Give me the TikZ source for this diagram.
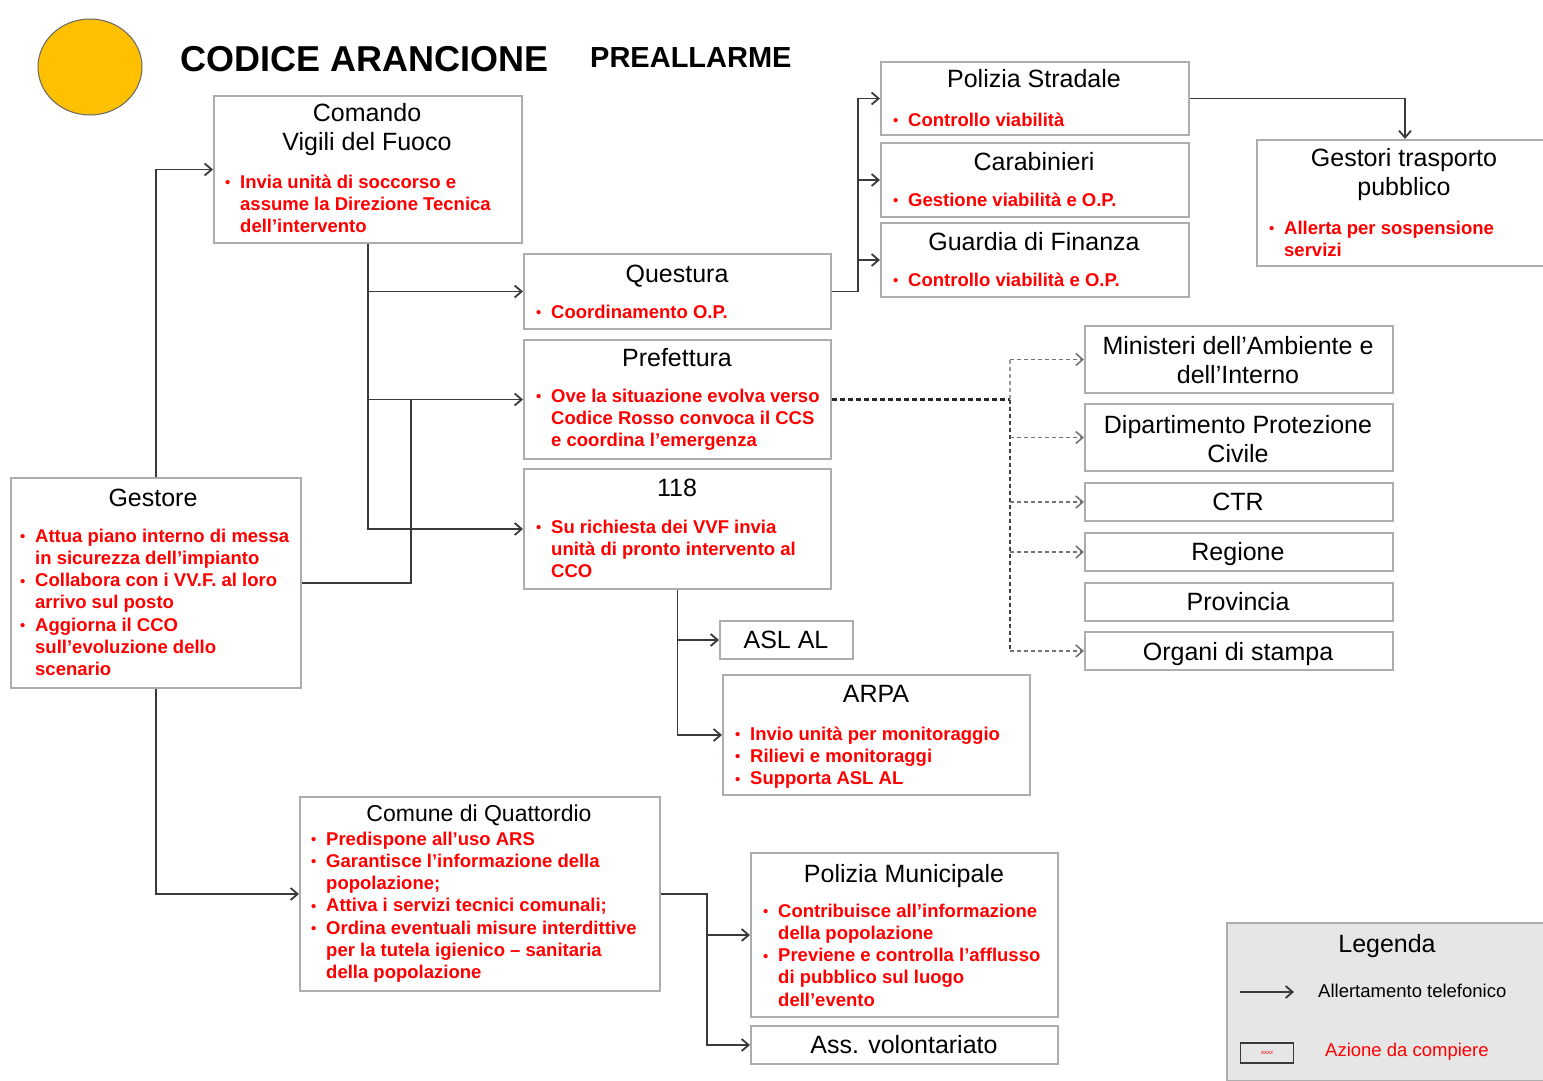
\documentclass[tikz,border=0pt]{standalone}
\usepackage{fontspec}
\setmainfont{Liberation Sans}
\usetikzlibrary{arrows.meta, positioning}
\definecolor{Arancio}{HTML}{FFC000}
\definecolor{Rosso}{HTML}{FF0000}
\definecolor{Bordo}{HTML}{ADADAD}
\definecolor{Linea}{HTML}{3A3A3A}
\definecolor{Fondo}{HTML}{E6E6E6}
\newcommand{\bl}{\makebox[15pt][l]{\raisebox{0.5pt}{\scalebox{0.8}{\textbullet}}}}
\newcommand{\ente}[5]{\node[box, anchor=north west, minimum width={#4-#2}, minimum height={#5-#3}] (#1) at (#2,#3) {};}
\tikzset{
  box/.style={draw=Bordo, line width=2pt, fill=white, inner sep=0pt},
  ttl/.style={font=\fontsize{25}{29}\selectfont, align=center, inner sep=0pt},
  act/.style={font=\fontsize{18.5}{22.3}\selectfont\bfseries, text=Rosso, anchor=base west, inner sep=0pt},
  con/.style={draw=Linea, line width=1.8pt},
  arr/.style={con, -{Straight Barb[length=7pt,width=12pt]}},
  dsh/.style={draw=black!55, line width=1.6pt, dash pattern=on 4pt off 3pt},
  darr/.style={dsh, -{Straight Barb[length=7pt,width=12pt]}}
}
\begin{document}
\begin{tikzpicture}[x=1pt, y=-1pt]
\useasboundingbox (0,0) rectangle (1543,1081);
% --- intestazione ---
\draw[fill=Arancio, draw=black!60, line width=1pt] (90,67) ellipse [x radius=52, y radius=48];
\node[anchor=base west, inner sep=0pt, font=\fontsize{36}{40}\selectfont\bfseries] (cod) at (180,71) {CODICE ARANCIONE};
\node[anchor=base west, inner sep=0pt, font=\fontsize{29}{33}\selectfont\bfseries] (fase) at (590,67) {PREALLARME};

% --- riquadri ---
\ente{vvf}{213}{95}{521}{242}
\ente{que}{523}{253}{830}{328}
\ente{pre}{523}{339}{830}{458}
\ente{sos}{523}{468}{830}{588}
\ente{pst}{880}{61}{1188}{134}
\ente{car}{880}{142}{1188}{216}
\ente{gdf}{880}{222}{1188}{296}
\ente{gtp}{1256}{139}{1552}{265}
\ente{min}{1084}{325}{1392}{392}
\ente{dip}{1084}{403}{1392}{470}
\ente{ctr}{1084}{482}{1392}{520}
\ente{reg}{1084}{532}{1392}{570}
\ente{prov}{1084}{582}{1392}{620}
\ente{org}{1084}{631}{1392}{669}
\ente{ges}{10}{477}{300}{687}
\ente{asl}{719}{620}{852}{658}
\ente{arpa}{722}{674}{1029}{794}
\ente{com}{299}{796}{659}{990}
\ente{pm}{750}{852}{1057}{1016}
\ente{ass}{750}{1025}{1057}{1063}

% --- titoli ---
\node[ttl] (vvfT) at (367,130) {Comando\\Vigili del Fuoco};
\node[ttl, anchor=base] (queT) at (677,282) {Questura};
\node[ttl, anchor=base] (preT) at (677,366) {Prefettura};
\node[ttl, anchor=base] (sosT) at (677,496) {118};
\node[ttl, anchor=base] (pstT) at (1034,88) {Polizia Stradale};
\node[ttl, anchor=base] (carT) at (1034,170) {Carabinieri};
\node[ttl, anchor=base] (gdfT) at (1034,250) {Guardia di Finanza};
\node[ttl] (gtpT) at (1404,175) {Gestori trasporto\\pubblico};
\node[ttl] (minT) at (1238,360) {Ministeri dell’Ambiente e\\dell’Interno};
\node[ttl] (dipT) at (1238,439) {Dipartimento Protezione\\Civile};
\node[ttl, anchor=base] (ctrT) at (1238,510) {CTR};
\node[ttl, anchor=base] (regT) at (1238,560) {Regione};
\node[ttl, anchor=base] (provT) at (1238,610) {Provincia};
\node[ttl, anchor=base] (orgT) at (1238,660) {Organi di stampa};
\node[ttl, anchor=base] (gesT) at (153,506) {Gestore};
\node[ttl, anchor=base] (aslT) at (786,648) {ASL AL};
\node[ttl, anchor=base] (arpaT) at (876,702) {ARPA};
\node[ttl, anchor=base, font=\fontsize{23}{27}\selectfont] (comT) at (479,821) {Comune di Quattordio};
\node[ttl, anchor=base] (pmT) at (904,882) {Polizia Municipale};
\node[ttl, anchor=base] (assT) at (904,1053) {Ass. volontariato};

% --- azioni ---
\node[act] (vvfA) at (225,188) {\begin{tabular}[t]{@{}l@{}l@{}}
\bl & Invia unità di soccorso e\\ & assume la Direzione Tecnica\\ & dell’intervento\end{tabular}};
\node[act] (queA) at (536,318) {\begin{tabular}[t]{@{}l@{}l@{}}
\bl & Coordinamento O.P.\end{tabular}};
\node[act] (preA) at (536,402) {\begin{tabular}[t]{@{}l@{}l@{}}
\bl & Ove la situazione evolva verso\\ & Codice Rosso convoca il CCS\\ & e coordina l’emergenza\end{tabular}};
\node[act] (sosA) at (536,533) {\begin{tabular}[t]{@{}l@{}l@{}}
\bl & Su richiesta dei VVF invia\\ & unità di pronto intervento al\\ & CCO\end{tabular}};
\node[act] (pstA) at (893,126) {\begin{tabular}[t]{@{}l@{}l@{}}
\bl & Controllo viabilità\end{tabular}};
\node[act] (carA) at (893,206) {\begin{tabular}[t]{@{}l@{}l@{}}
\bl & Gestione viabilità e O.P.\end{tabular}};
\node[act] (gdfA) at (893,286) {\begin{tabular}[t]{@{}l@{}l@{}}
\bl & Controllo viabilità e O.P.\end{tabular}};
\node[act] (gtpA) at (1269,234) {\begin{tabular}[t]{@{}l@{}l@{}}
\bl & Allerta per sospensione\\ & servizi\end{tabular}};
\node[act] (gesA) at (20,542) {\begin{tabular}[t]{@{}l@{}l@{}}
\bl & Attua piano interno di messa\\ & in sicurezza dell’impianto\\
\bl & Collabora con i VV.F. al loro\\ & arrivo sul posto\\
\bl & Aggiorna il CCO\\ & sull’evoluzione dello\\ & scenario\end{tabular}};
\node[act] (arpaA) at (735,740) {\begin{tabular}[t]{@{}l@{}l@{}}
\bl & Invio unità per monitoraggio\\
\bl & Rilievi e monitoraggi\\
\bl & Supporta ASL AL\end{tabular}};
\node[act] (comA) at (311,845) {\begin{tabular}[t]{@{}l@{}l@{}}
\bl & Predispone all’uso ARS\\
\bl & Garantisce l’informazione della\\ & popolazione;\\
\bl & Attiva i servizi tecnici comunali;\\
\bl & Ordina eventuali misure interdittive\\ & per la tutela igienico – sanitaria\\ & della popolazione\end{tabular}};
\node[act] (pmA) at (763,917) {\begin{tabular}[t]{@{}l@{}l@{}}
\bl & Contribuisce all’informazione\\ & della popolazione\\
\bl & Previene e controlla l’afflusso\\ & di pubblico sul luogo\\ & dell’evento\end{tabular}};

% --- allertamenti ---
\draw[arr] (ges.north) |- (vvf.west);
\draw[arr] (vvf.south) |- (que.west);
\draw[arr] (vvf.south) |- (pre.west);
\draw[arr] (vvf.south) |- (sos.west);
\draw[con] (ges.east) -| ([xshift=-112pt]pre.west);
\draw[arr] (que.east) -- ++(26,0) |- (pst.west);
\draw[arr] (que.east) -- ++(26,0) |- (car.west);
\draw[arr] (que.east) -- ++(26,0) |- (gdf.west);
\draw[arr] (pst.east) -| (gtp.north);
\draw[arr] (sos.south) |- (asl.west);
\draw[arr] (sos.south) |- (arpa.west);
\draw[arr] (ges.south) |- (com.west);
\draw[arr] (com.east) -- ++(46,0) |- (pm.west);
\draw[arr] (com.east) -- ++(46,0) |- (ass.west);

% --- prefettura verso enti superiori ---
\coordinate (dj) at ([xshift=178pt]pre.east);
\draw[draw=black!85, line width=2.6pt, dash pattern=on 5pt off 3pt] (pre.east) -- (dj);
\draw[dsh, draw=black!40] (dj |- min.west) -- (dj);
\draw[dsh, draw=black!75] (dj) -- (dj |- org.west);
\foreach \n in {min,dip,ctr,reg,org}
  \draw[darr] (dj |- \n.west) -- (\n.west);

% --- legenda ---
\node[box, draw=Bordo, fill=Fondo, anchor=north west, minimum width=320, minimum height=158] (leg) at (1226,922) {};
\node[ttl, anchor=base] (legT) at (1387,952) {Legenda};
\coordinate (la) at (1240,992);
\coordinate (lb) at (1294,992);
\draw[arr] (la) -- (lb);
\node[anchor=base west, inner sep=0pt, font=\fontsize{18.5}{22}\selectfont] (legA) at (1318,997) {Allertamento telefonico};
\node[draw=Linea, line width=1.5pt, minimum width=53, minimum height=20, inner sep=0pt, font=\fontsize{6}{6}\selectfont, text=Rosso] (legB) at (1267,1053) {xxxx};
\node[anchor=base west, inner sep=0pt, font=\fontsize{18.5}{22}\selectfont, text=Rosso] (legC) at (1325,1056) {Azione da compiere};
\end{tikzpicture}
\end{document}
